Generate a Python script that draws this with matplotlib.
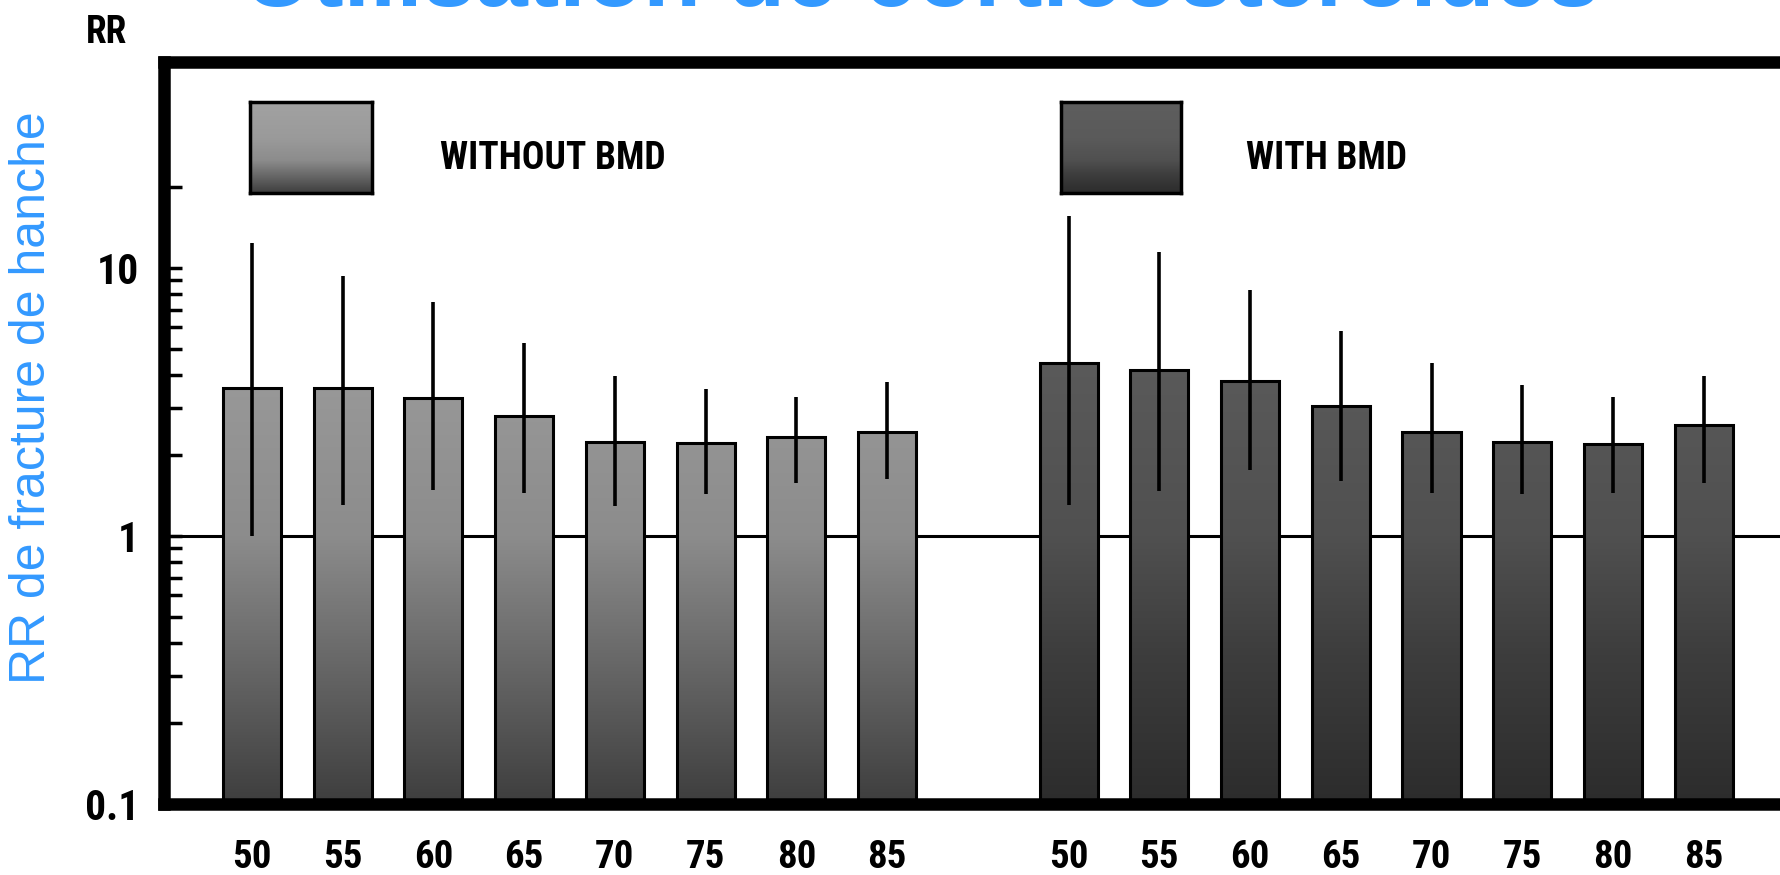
import numpy as np
import matplotlib
matplotlib.use('Agg')
from matplotlib import pyplot as plt
from matplotlib import font_manager
from matplotlib.font_manager import FontProperties
from matplotlib.colors import LinearSegmentedColormap
from matplotlib.ticker import FixedLocator, NullFormatter

# Relative risk of hip fracture by age, without / with BMD adjustment.
ages = ['50', '55', '60', '65', '70', '75', '80', '85']
rr_without = [3.46, 3.48, 3.17, 2.70, 2.15, 2.12, 2.24, 2.34]
lo_without = [1.0, 1.31, 1.49, 1.45, 1.29, 1.43, 1.58, 1.63]
hi_without = [12.4, 9.3, 7.5, 5.27, 3.94, 3.55, 3.29, 3.77]
rr_with = [4.34, 4.06, 3.70, 2.95, 2.34, 2.15, 2.10, 2.50]
lo_with = [1.3, 1.47, 1.77, 1.6, 1.45, 1.43, 1.45, 1.58]
hi_with = [15.6, 11.5, 8.3, 5.8, 4.43, 3.67, 3.29, 3.94]

yticks = [0.1, 1, 10]
ytick_labels = ['0.1', '1', '10']
yminor = [0.2, 0.3, 0.4, 0.5, 0.6, 0.7, 0.8, 0.9,
          2, 3, 4, 5, 6, 7, 8, 9, 20]

title = 'Utilisation de corticostéroïdes'
ylabel = 'RR de fracture de hanche'
legend_labels = ['WITHOUT BMD', 'WITH BMD']

BLUE = '#3399ff'

names = {f.name for f in font_manager.fontManager.ttflist}
SANS = 'Liberation Sans' if 'Liberation Sans' in names else 'DejaVu Sans'


def find_narrow():
    """Returns the path of a condensed bold font, if one is installed."""
    files = [f.fname for f in font_manager.fontManager.ttflist]
    for key in ['LiberationSansNarrow-Bold.', 'RobotoCondensed-Bold.',
                'DejaVuSansCondensed-Bold.', 'OpenSans_Condensed-Bold',
                'OpenSans-CondensedBold']:
        for fn in files:
            if key in fn:
                return fn
    return None


narrow_file = find_narrow()


def narrow(size):
    if narrow_file:
        return FontProperties(fname=narrow_file, size=size)
    return FontProperties(family='DejaVu Sans', weight='bold', size=size)


cmap_light = LinearSegmentedColormap.from_list(
    'light', [(0, '#3e3e3e'), (0.15, '#5f5f5f'), (0.36, '#8c8c8c'),
              (0.6, '#9a9a9a'), (1, '#a2a2a2')])
cmap_dark = LinearSegmentedColormap.from_list(
    'dark', [(0, '#2c2c2c'), (0.2, '#3d3d3d'), (0.36, '#505050'),
             (0.6, '#5a5a5a'), (1, '#5e5e5e')])
grad = np.linspace(0, 1, 256).reshape(-1, 1)

fig = plt.figure(figsize=(17.8, 8.75), dpi=100)
ax = fig.add_axes([0.0921, 0.0811, 0.967, 0.848])
ax.set_yscale('log')

x1 = np.arange(len(ages))
x2 = x1 + len(ages) + 1
width = 0.64

ax.axhline(1, color='black', lw=2.2, zorder=1)


def gradient_bars(x, vals, lo, hi, cmap):
    bars = ax.bar(x, vals, width=width, bottom=0.1, facecolor='none',
                  edgecolor='black', linewidth=2.2, zorder=3)
    for b in bars:
        im = ax.imshow(grad, extent=(0, 1, 0, 1), transform=ax.transAxes,
                       origin='lower', aspect='auto', cmap=cmap, zorder=2)
        im.set_clip_path(b)
    vals = np.array(vals)
    yerr = [vals - np.array(lo), np.array(hi) - vals]
    ax.errorbar(x, vals, yerr=yerr, fmt='none', ecolor='black',
                elinewidth=2.6, capsize=0, zorder=4)


gradient_bars(x1, rr_without, lo_without, hi_without, cmap_light)
gradient_bars(x2, rr_with, lo_with, hi_with, cmap_dark)

ax.set_xlim(-0.97, 18)
ax.set_ylim(0.1, 58.7)

ax.set_yticks(yticks)
ax.set_yticklabels(ytick_labels)
ax.yaxis.set_minor_locator(FixedLocator(yminor))
ax.yaxis.set_minor_formatter(NullFormatter())
ax.tick_params(axis='y', which='both', direction='in', length=13, width=2.5,
               pad=18)
ax.tick_params(axis='x', length=0, pad=25)
ax.set_xticks(np.concatenate([x1, x2]))
ax.set_xticklabels(ages + ages)
for lab in ax.get_xticklabels():
    lab.set_fontproperties(narrow(28))
for lab in ax.get_yticklabels():
    lab.set_fontproperties(narrow(30))

for s in ax.spines.values():
    s.set_linewidth(9)
ax.spines['right'].set_visible(False)

# legend swatches
for left, w, cmap, lab, tx in [(0.1404, 0.0685, cmap_light, legend_labels[0], 0.2472),
                               (0.596, 0.0674, cmap_dark, legend_labels[1], 0.700)]:
    sw = fig.add_axes([left, 0.7794, w, 0.104])
    sw.imshow(grad, origin='lower', aspect='auto', cmap=cmap,
              extent=(0, 1, 0, 1))
    sw.set_xticks([])
    sw.set_yticks([])
    for s in sw.spines.values():
        s.set_linewidth(2.5)
    fig.text(tx, 0.8183, lab, fontproperties=narrow(27),
             ha='left', va='center')

fig.text(0.0596, 0.963, 'RR', fontproperties=narrow(27),
         ha='center', va='center')
fig.text(0.018, 0.546, ylabel, rotation=90, color=BLUE, fontsize=36,
         family=SANS, ha='center', va='center')
fig.text(0.518, 0.993, title, color=BLUE, fontsize=68, family=SANS,
         fontweight='bold', ha='center', va='baseline')

fig.savefig('out.png', dpi=100)
